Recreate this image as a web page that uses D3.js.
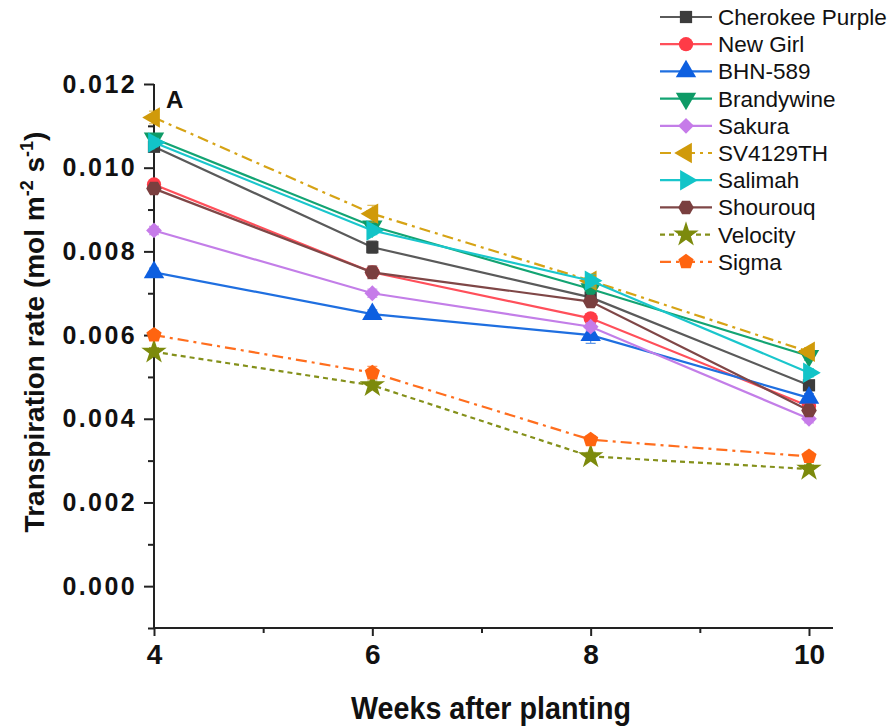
<!DOCTYPE html>
<html>
<head>
<meta charset="utf-8">
<script src="https://cdn.jsdelivr.net/npm/d3@7"></script>
<style>
  body { margin: 0; background: #fff; }
  svg { display: block; font-family: "Liberation Sans", Arial, sans-serif; }
</style>
</head>
<body>
<script>

// weeks after planting
const weeks = [4, 6, 8, 10];

const varieties = ["Cherokee Purple", "New Girl", "BHN-589", "Brandywine", "Sakura",
                   "SV4129TH", "Salimah", "Shourouq", "Velocity", "Sigma"];

// transpiration rate, one array per variety (same order as weeks)
const cherokeePurple = [0.0105, 0.0081, 0.0069, 0.0048];
const newGirl        = [0.0096, 0.0075, 0.0064, 0.0043];
const bhn589         = [0.0075, 0.0065, 0.0060, 0.0045];
const brandywine     = [0.0107, 0.0086, 0.0071, 0.0055];
const sakura         = [0.0085, 0.0070, 0.0062, 0.0040];
const sv4129th       = [0.0112, 0.0089, 0.0073, 0.0056];
const salimah        = [0.0106, 0.0085, 0.0073, 0.0051];
const shourouq       = [0.0095, 0.0075, 0.0068, 0.0042];
const velocity       = [0.0056, 0.0048, 0.0031, 0.0028];
const sigma          = [0.0060, 0.0051, 0.0035, 0.0031];

// standard errors (rough, bars are barely visible)
const cherokeeErr   = [0.0001, 0.00015, 0.0001, 0.0001];
const newGirlErr    = [0.0001, 0.0001, 0.0001, 0.0001];
const bhnErr        = [0.0001, 0.0001, 0.0002, 0.0001];
const brandywineErr = [0.0001, 0.0001, 0.0001, 0.0001];
const sakuraErr     = [0.0001, 0.0001, 0.0001, 0.0001];
const svErr         = [0.00015, 0.0002, 0.0001, 0.0001];
const salimahErr    = [0.0001, 0.0001, 0.00015, 0.0001];
const shourouqErr   = [0.0001, 0.00015, 0.0001, 0.0001];
const velocityErr   = [0.0001, 0.0001, 0.0001, 0.0001];
const sigmaErr      = [0.0001, 0.00015, 0.0001, 0.0001];

const yTicks = [0, 0.002, 0.004, 0.006, 0.008, 0.010, 0.012];
const yMinor = [-0.001, 0.001, 0.003, 0.005, 0.007, 0.009, 0.011];
const xTicks = [4, 6, 8, 10];
const xMinor = [5, 7, 9];

const seriesValues = [cherokeePurple, newGirl, bhn589, brandywine, sakura,
                      sv4129th, salimah, shourouq, velocity, sigma];
const seriesErrors = [cherokeeErr, newGirlErr, bhnErr, brandywineErr, sakuraErr,
                      svErr, salimahErr, shourouqErr, velocityErr, sigmaErr];

const styles = {
  "Cherokee Purple": {color: "#5a5a5a", fill: "#3c3c3c", marker: "square", dash: null},
  "New Girl":        {color: "#ff4f5a", fill: "#ff3b47", marker: "circle", dash: null},
  "BHN-589":         {color: "#1f6fe0", fill: "#0d5fe0", marker: "triUp", dash: null},
  "Brandywine":      {color: "#13a473", fill: "#0e9a66", marker: "triDown", dash: null},
  "Sakura":          {color: "#c37ee8", fill: "#c67be9", marker: "diamond", dash: null},
  "SV4129TH":        {color: "#d6a315", fill: "#d09a0a", marker: "triLeft", dash: "11,5,3,5"},
  "Salimah":         {color: "#1ac6cc", fill: "#12c4c8", marker: "triRight", dash: null},
  "Shourouq":        {color: "#7f4747", fill: "#7a3f3f", marker: "hexagon", dash: null},
  "Velocity":        {color: "#84901a", fill: "#7c8a0c", marker: "star", dash: "5,4"},
  "Sigma":           {color: "#ff6e1e", fill: "#ff6410", marker: "pentagon", dash: "11,5,3,5"}
};

const width = 894, height = 728;

const x = d3.scaleLinear().domain([4, 10.22]).range([154, 833]);
const y = d3.scaleLinear().domain([-0.001, 0.012]).range([628, 84]);

/**
  regular polygon path, centred on 0,0
*/
function polygon(n, r, rot){
  let pts = d3.range(n).map(i=>{
    let a = rot + i * 2 * Math.PI / n;
    return [r * Math.cos(a), r * Math.sin(a)];
  });
  return "M" + pts.map(p=>p.join(",")).join("L") + "Z";
}

function markerPath(kind){
  switch(kind){
    case "square":   return d3.symbol(d3.symbolSquare, 150)();
    case "circle":   return d3.symbol(d3.symbolCircle, 160)();
    case "triUp":
    case "triDown":
    case "triLeft":
    case "triRight": return d3.symbol(d3.symbolTriangle, 180)();
    case "diamond":  return d3.symbol(d3.symbolSquare, 125)();
    case "hexagon":  return polygon(6, 7.8, 0);
    case "star":     return d3.symbol(d3.symbolStar, 200)();
    case "pentagon": return polygon(5, 8, -Math.PI / 2);
  }
}

function markerRotate(kind){
  return {triDown: 180, triLeft: -90, triRight: 90, diamond: 45}[kind] || 0;
}

/**
  apply multiple attrs from an array of arrays
*/
function attrs(selection, ...list){
  list.forEach(a=>selection.attr(a[0], a[1]));
  return selection;
}

const svg = d3.select("body").append("svg")
  .attr("width", width)
  .attr("height", height);

const series = varieties.map((name, i)=>({
  name: name,
  style: styles[name],
  points: weeks.map((w, j)=>({week: w, value: seriesValues[i][j], err: seriesErrors[i][j]}))
}));

// axes
const axisColor = "#222";

const yAxis = svg.append("g")
  .attr("transform", `translate(${x(4)},0)`)
  .call(d3.axisLeft(y).tickValues(yTicks).tickFormat(d3.format(".3f")).tickSize(10).tickPadding(7));
yAxis.select(".domain").attr("d", `M0,${y(0.012)}V${y(-0.001)}`);

svg.append("g")
  .attr("transform", `translate(${x(4)},0)`)
  .call(d3.axisLeft(y).tickValues(yMinor).tickFormat("").tickSize(6))
  .select(".domain").remove();

const xAxis = svg.append("g")
  .attr("transform", `translate(0,${y(-0.001)})`)
  .call(d3.axisBottom(x).tickValues(xTicks).tickFormat(d3.format("d")).tickSize(8).tickPadding(8));
xAxis.select(".domain").attr("d", `M${x(4)},0H${x(10.22)}`);

svg.append("g")
  .attr("transform", `translate(0,${y(-0.001)})`)
  .call(d3.axisBottom(x).tickValues(xMinor).tickFormat("").tickSize(5))
  .select(".domain").remove();

svg.selectAll(".domain").attr("stroke", axisColor).attr("stroke-width", 2);
svg.selectAll(".tick line").attr("stroke", axisColor).attr("stroke-width", 2);

yAxis.selectAll(".tick text")
  .attr("font-size", 25).attr("font-weight", "bold").attr("fill", "#111")
  .attr("letter-spacing", 2.4);
xAxis.selectAll(".tick text")
  .attr("font-size", 28).attr("font-weight", "bold").attr("fill", "#111");

// axis titles
attrs(svg.append("text"),
  ["x", 491], ["y", 719], ["text-anchor", "middle"],
  ["font-size", 31], ["font-weight", "bold"], ["fill", "#111"],
  ["textLength", 280], ["lengthAdjust", "spacingAndGlyphs"]
).text("Weeks after planting");

const yTitle = attrs(svg.append("text"),
  ["transform", "translate(44,332) rotate(-90)"], ["text-anchor", "middle"],
  ["font-size", 28], ["font-weight", "bold"], ["fill", "#111"]
);
yTitle.append("tspan").text("Transpiration rate (mol m");
yTitle.append("tspan").attr("font-size", 18).attr("dy", -11).text("-2");
yTitle.append("tspan").attr("dy", 11).text(" s");
yTitle.append("tspan").attr("font-size", 18).attr("dy", -11).text("-1");
yTitle.append("tspan").attr("dy", 11).text(")");

attrs(svg.append("text"),
  ["x", 166], ["y", 108], ["font-size", 24], ["font-weight", "bold"], ["fill", "#111"]
).text("A");

// data
const line = d3.line().x(d=>x(d.week)).y(d=>y(d.value));

const plot = svg.append("g").attr("id", "series");

const groups = plot.selectAll("g.series")
  .data(series)
  .join("g")
  .attr("class", "series");

groups.append("path")
  .attr("d", d=>line(d.points))
  .attr("fill", "none")
  .attr("stroke", d=>d.style.color)
  .attr("stroke-width", 2.2)
  .attr("stroke-dasharray", d=>d.style.dash);

// error bars
groups.each(function(s){
  let g = d3.select(this).append("g").attr("stroke", s.style.color).attr("stroke-width", 1.2).attr("opacity", 0.7);
  g.selectAll("path")
    .data(s.points)
    .join("path")
    .attr("d", p=>{
      let cx = x(p.week), t = y(p.value + p.err), b = y(p.value - p.err);
      return `M${cx},${t}V${b}M${cx-5},${t}H${cx+5}M${cx-5},${b}H${cx+5}`;
    });
});

groups.each(function(s){
  d3.select(this).selectAll("path.marker")
    .data(s.points)
    .join("path")
    .attr("class", "marker")
    .attr("d", markerPath(s.style.marker))
    .attr("transform", p=>`translate(${x(p.week)},${y(p.value)}) rotate(${markerRotate(s.style.marker)})`)
    .attr("fill", s.style.fill);
});

// legend
const legend = svg.append("g").attr("id", "legend");
const rowH = 27.2;

const rows = legend.selectAll("g")
  .data(series)
  .join("g")
  .attr("transform", (d, i)=>`translate(0,${17 + i * rowH})`);

rows.append("line")
  .attr("x1", 660).attr("x2", 712)
  .attr("stroke", d=>d.style.color)
  .attr("stroke-width", 2.2)
  .attr("stroke-dasharray", d=>d.style.dash);

rows.append("path")
  .attr("d", d=>markerPath(d.style.marker))
  .attr("transform", d=>`translate(686,0) rotate(${markerRotate(d.style.marker)})`)
  .attr("fill", d=>d.style.fill);

rows.append("text")
  .attr("x", 718).attr("y", 8)
  .attr("font-size", 22.5)
  .attr("fill", "#111")
  .text(d=>d.name);

</script>
</body>
</html>
